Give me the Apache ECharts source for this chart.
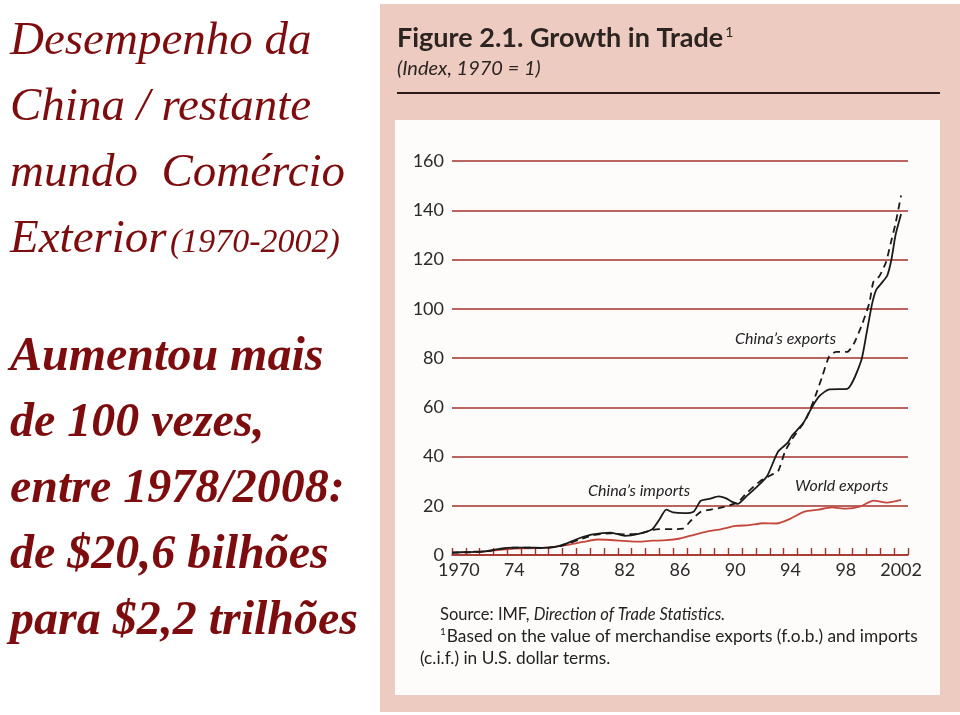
<!DOCTYPE html>
<html><head><meta charset="utf-8">
<script src="https://cdn.jsdelivr.net/npm/echarts@6/dist/echarts.min.js"></script>
<style>html,body{margin:0;padding:0;background:#fff}#c{width:960px;height:715px}</style>
</head><body><div id="c"></div>
<script>
// categories (year labels on the axis)
const years = [];
for (let y = 1970; y <= 2002; y++) years.push(String(y));
const yTicks = [0, 20, 40, 60, 80, 100, 120, 140, 160];

// China's imports (solid)
const impX = [1969.5,1971,1972,1973,1974,1975,1976,1977,1977.7,1978.7,1979.7,1981,1982,1983,1984,1984.5,1985,1985.5,1986.3,1987,1987.5,1988.2,1988.8,1989.3,1989.7,1990.2,1990.8,1991.6,1992.3,1993.1,1993.8,1994.1,1994.95,1995.6,1996.1,1996.8,1998.1,1999.1,1999.5,1999.9,2000.2,2000.6,2001.0,2001.3,2001.6,2002.0];
const impY = [1,1.3,1.6,2.6,3.0,3.0,2.9,3.3,4.5,6.8,8.4,9.1,7.8,8.6,10.5,14.3,18.4,17.3,17,17.7,22,22.9,23.8,23.1,21.8,20.8,23.8,27.9,32,42,45.6,48.4,53.8,60.5,64.6,67.3,67.5,78.7,90,102,107.7,110.5,113.5,120,130,138.5];

// China's exports (dashed)
const expX = [1969.5,1971,1972,1973,1974,1975,1976,1977,1977.7,1978.7,1979.7,1981,1982,1983,1984,1984.5,1985.5,1986.2,1986.8,1987.5,1988.3,1989.2,1990.2,1990.8,1991.8,1992.6,1993.1,1993.6,1994.1,1995.1,1995.8,1996.3,1996.8,1997.3,1998.1,1998.6,1999.2,1999.7,2000.0,2000.4,2000.9,2001.25,2001.6,2002.0];
const expY = [1,1.1,1.5,2.4,3.0,3.0,2.8,3.2,4.2,6.2,8.0,8.8,8.4,8.6,10.2,10.5,10.5,10.7,14,17.5,18.5,19.5,21.5,25,30,32.5,34,42,47,55,64.6,72.6,80.7,82.5,82.5,86,94,102.3,111,113,118.8,126.6,134.7,146];

// World exports (red)
const wldX = [1969.5,1971,1972,1973,1974,1975,1976,1977,1978,1979,1980,1981,1982,1983,1984,1985,1986,1987,1988,1989,1990,1991,1992,1993,1994,1995,1996,1997,1998,1999,2000,2001,2002];
const wldY = [1,1.2,1.5,2.1,2.6,2.7,2.9,3.4,4.2,5.3,6.3,6.1,5.7,5.4,5.8,6.0,6.7,8.2,9.6,10.5,11.8,12.1,12.9,12.8,14.8,17.6,18.4,19.3,18.8,19.6,22.1,21.3,22.4];

const zip = (xs, ys) => xs.map((x, i) => [x, ys[i]]);
const gridRed = '#a3322b';
const serif = '"Liberation Serif", "DejaVu Serif", serif';
const sans = 'Lato, "Open Sans", sans-serif';
const maroon = '#7d0c0e';

const chart = echarts.init(document.getElementById('c'), null, {renderer: 'canvas'});
const leftLines1 = ['Desempenho da', 'China / restante', 'mundo  Comércio'];
const leftLines2 = ['Aumentou mais', 'de 100 vezes,', 'entre 1978/2008:', 'de $20,6 bilhões', 'para $2,2 trilhões'];

const graphics = [
  {type: 'rect', z: -10, shape: {x: 380, y: 4, width: 580, height: 708}, style: {fill: '#edcbc0'}, silent: true},
  {type: 'rect', z: -9, shape: {x: 395, y: 120, width: 545, height: 575}, style: {fill: '#fdfcfb'}, silent: true},
  {type: 'line', shape: {x1: 397, y1: 93, x2: 940, y2: 93}, style: {stroke: '#2a1a18', lineWidth: 2}},
  {type: 'text', left: 397, top: 25, style: {
    text: '{b|Figure 2.1. Growth in Trade}{s|1}', rich: {
      b: {fontFamily: sans, fontWeight: 'bold', fontSize: 27, fill: '#2b2420'},
      s: {fontFamily: sans, fontSize: 14, fill: '#2b2420', verticalAlign: 'top', padding: [0,0,13,2]}
    }}},
  {type: 'text', left: 397, top: 59, style: {text: '(Index, 1970 = 1)', fontFamily: sans, fontStyle: 'italic', fontSize: 20, fill: '#2b2420'}},
  {type: 'text', left: 735, top: 331, style: {text: 'China’s exports', fontFamily: sans, fontStyle: 'italic', fontSize: 16, fill: '#222'}},
  {type: 'text', left: 588, top: 483, style: {text: 'China’s imports', fontFamily: sans, fontStyle: 'italic', fontSize: 16, fill: '#222'}},
  {type: 'text', left: 795, top: 478, style: {text: 'World exports', fontFamily: sans, fontStyle: 'italic', fontSize: 16, fill: '#222'}},
  {type: 'text', left: 440, top: 606, style: {
    text: '{n|Source: IMF, }{i|Direction of Trade Statistics.}', rich: {
      n: {fontFamily: sans, fontSize: 16.5, fill: '#222'},
      i: {fontFamily: sans, fontStyle: 'italic', fontSize: 16.5, fill: '#222'}
    }}},
  {type: 'text', left: 440, top: 627, style: {
    text: '{s|1}{n|Based on the value of merchandise exports (f.o.b.) and imports}', rich: {
      s: {fontFamily: sans, fontSize: 10, fill: '#222', verticalAlign: 'top', padding: [0,1,8,0]},
      n: {fontFamily: sans, fontSize: 17.3, fill: '#222'}
    }}},
  {type: 'text', left: 420, top: 650, style: {text: '(c.i.f.) in U.S. dollar terms.', fontFamily: sans, fontSize: 17.3, fill: '#222'}}
];
leftLines1.forEach((t, i) => graphics.push({type: 'text', left: 10, top: 18 + i * 66,
  style: {text: t, fontFamily: serif, fontStyle: 'italic', fontSize: 47, fill: maroon}}));
graphics.push({type: 'text', left: 10, top: 216, style: {
  text: '{a|Exterior} {b|(1970-2002)}', rich: {
    a: {fontFamily: serif, fontStyle: 'italic', fontSize: 47, fill: maroon},
    b: {fontFamily: serif, fontStyle: 'italic', fontSize: 34, fill: maroon, padding: [8,0,0,0]}
  }}});
leftLines2.forEach((t, i) => graphics.push({type: 'text', left: 10, top: 334 + i * 66,
  style: {text: t, fontFamily: serif, fontStyle: 'italic', fontWeight: 'bold', fontSize: 48, fill: maroon}}));

chart.setOption({
  backgroundColor: '#ffffff',
  animation: false,
  graphic: graphics,
  grid: {left: 452, right: 52, top: 161, bottom: 160, containLabel: false},
  xAxis: [
    {type: 'category', data: years, boundaryGap: true,
     axisLine: {lineStyle: {color: gridRed, width: 1.6}},
     axisTick: {show: true, inside: true, length: 7, interval: 0, lineStyle: {color: gridRed, width: 1.4}},
     axisLabel: {interval: 3, color: '#2a2a2a', fontFamily: sans, fontSize: 18, margin: 6,
       formatter: v => (v === '1970' || v === '2002') ? v : v.slice(2)},
     splitLine: {show: false}},
    {type: 'value', min: 1969.5, max: 2002.5, show: false}
  ],
  yAxis: {type: 'value', min: 0, max: 160, interval: 20,
    axisLine: {show: false}, axisTick: {show: false},
    axisLabel: {color: '#2a2a2a', fontFamily: sans, fontSize: 18, margin: 8,
      formatter: v => yTicks.includes(v) ? String(v) : ''},
    splitLine: {lineStyle: {color: gridRed, width: 1.6}}},
  series: [
    {name: 'World exports', type: 'line', xAxisIndex: 1, data: zip(wldX, wldY), showSymbol: false, smooth: 0.2,
     lineStyle: {color: '#c4473c', width: 1.8}, z: 3},
    {name: "China's imports", type: 'line', xAxisIndex: 1, data: zip(impX, impY), showSymbol: false, smooth: 0.2,
     lineStyle: {color: '#1a1a1a', width: 1.8}, z: 4},
    {name: "China's exports", type: 'line', xAxisIndex: 1, data: zip(expX, expY), showSymbol: false, smooth: 0.2,
     lineStyle: {color: '#1a1a1a', width: 1.8, type: [7, 5]}, z: 5}
  ]
});
</script></body></html>
